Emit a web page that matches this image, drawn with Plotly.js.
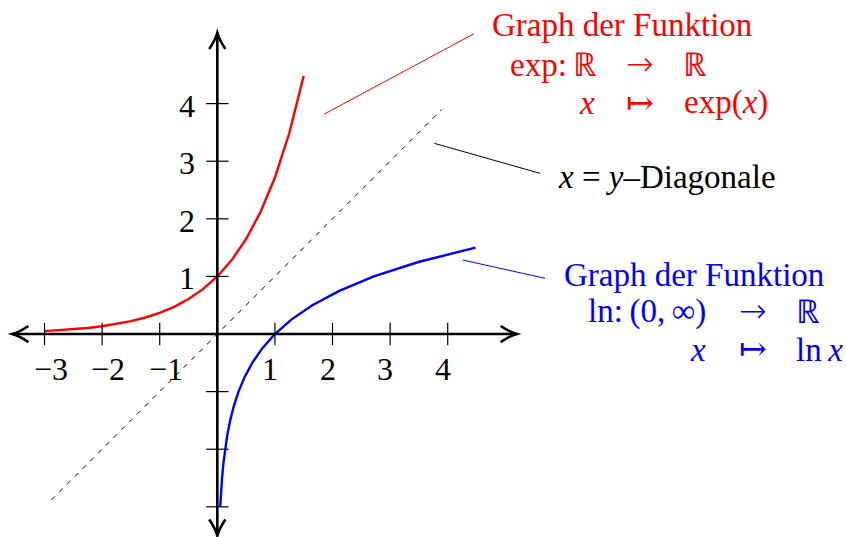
<!DOCTYPE html>
<html>
<head>
<meta charset="utf-8">
<script src="https://cdn.plot.ly/plotly-3.0.1.min.js"></script>
<style>
  html, body { margin: 0; padding: 0; background: #fff; }
  #chart { width: 846px; height: 537px; }
</style>
</head>
<body>
<div id="chart"></div>
<script>
// Sample parameter values and the matching exponential values
const tSamples = [-3, -2.75, -2.5, -2.25, -2, -1.75, -1.5, -1.25, -1, -0.75, -0.5, -0.25, 0, 0.25, 0.5, 0.75, 1, 1.25, 1.5];
const expValues = [0.050, 0.064, 0.082, 0.105, 0.135, 0.174, 0.223, 0.287, 0.368, 0.472, 0.607, 0.779, 1.000, 1.284, 1.649, 2.117, 2.718, 3.490, 4.482];

// Dashed x = y diagonal
const diagX = [-2.88, 3.9];
const diagY = [-2.88, 3.9];

// Axis extents
const xAxisSpan = [-3.56, 5.2];
const yAxisSpan = [-3.5, 5.23];

// Tick marks and labels
const xTicks = [-3, -2, -1, 1, 2, 3, 4];
const xTickText = ['\u22123', '\u22122', '\u22121', '1', '2', '3', '4'];
const yTicks = [-3, -2, -1, 1, 2, 3, 4];
const yLabelVals = [1, 2, 3, 4];
const yTickText = ['1', '2', '3', '4'];

const W = 846, H = 537;
const FONT = 'Liberation Serif, Times New Roman, serif';
const ARROW_FONT = 'DejaVu Sans ExtraLight, DejaVu Sans, sans-serif';
const MAPSTO_FONT = 'DejaVu Serif, DejaVu Sans, serif';
const FS = 32;       // tick labels
const TS = 33;       // description text
const AS = 33;       // arrow glyphs
const RED = '#ff0000', BLUE = '#0000ff', BLACK = '#000000';

const traces = [
  { // exp graph
    x: tSamples, y: expValues, mode: 'lines',
    line: { color: RED, width: 2.4 }, hoverinfo: 'skip'
  },
  { // ln graph (reflection of the exp graph)
    x: expValues, y: tSamples, mode: 'lines',
    line: { color: BLUE, width: 2.4 }, hoverinfo: 'skip'
  },
  { // diagonal
    x: diagX, y: diagY, mode: 'lines',
    line: { color: BLACK, width: 1, dash: '5px,6px' }, hoverinfo: 'skip'
  },
  { // x ticks
    x: xTicks, y: xTicks.map(() => 0), mode: 'markers',
    marker: { symbol: 'line-ns', size: 16, line: { color: BLACK, width: 1.2 } }, hoverinfo: 'skip'
  },
  { // y ticks
    x: yTicks.map(() => 0), y: yTicks, mode: 'markers',
    marker: { symbol: 'line-ew', size: 16, line: { color: BLACK, width: 1.2 } }, hoverinfo: 'skip'
  }
];

// Axis lines with open chevron heads at both ends
const AW = 2.6, HB = 0.28, HH = 0.14;
function chevron(tx, ty, dx, dy) {
  // (dx, dy): unit direction the arrow points to
  const bx = tx - dx * HB, by = ty - dy * HB;
  const px = -dy * HH, py = dx * HH;
  const mx = tx - dx * HB * 0.45, my = ty - dy * HB * 0.45;
  return 'M ' + (bx + px) + ',' + (by + py) +
         ' Q ' + (mx + px * 0.25) + ',' + (my + py * 0.25) + ' ' + tx + ',' + ty +
         ' Q ' + (mx - px * 0.25) + ',' + (my - py * 0.25) + ' ' + (bx - px) + ',' + (by - py);
}
const axisLine = { color: BLACK, width: AW };
const shapes = [
  { type: 'line', xref: 'x', yref: 'y', x0: xAxisSpan[0], y0: 0, x1: xAxisSpan[1], y1: 0, line: axisLine },
  { type: 'line', xref: 'x', yref: 'y', x0: 0, y0: yAxisSpan[0], x1: 0, y1: yAxisSpan[1], line: axisLine },
  { type: 'path', xref: 'x', yref: 'y', path: chevron(xAxisSpan[1], 0, 1, 0), line: axisLine },
  { type: 'path', xref: 'x', yref: 'y', path: chevron(xAxisSpan[0], 0, -1, 0), line: axisLine },
  { type: 'path', xref: 'x', yref: 'y', path: chevron(0, yAxisSpan[1], 0, 1), line: axisLine },
  { type: 'path', xref: 'x', yref: 'y', path: chevron(0, yAxisSpan[0], 0, -1), line: axisLine },
  // leader lines to the descriptions
  { type: 'line', xref: 'x', yref: 'y', x0: 1.86, y0: 3.82, x1: 4.45, y1: 5.21, line: { color: RED, width: 1 } },
  { type: 'line', xref: 'x', yref: 'y', x0: 3.77, y0: 3.31, x1: 5.60, y1: 2.79, line: { color: BLACK, width: 1 } },
  { type: 'line', xref: 'x', yref: 'y', x0: 4.26, y0: 1.285, x1: 5.69, y1: 0.967, line: { color: BLUE, width: 1 } }
];

const annotations = [];
// x tick labels
xTicks.forEach((v, i) => {
  annotations.push({
    x: v, y: 0, xref: 'x', yref: 'y', text: xTickText[i], showarrow: false,
    xanchor: 'center', yanchor: 'bottom', xshift: v < 0 ? 6 : -5, yshift: -54,
    borderpad: 0, font: { family: FONT, size: FS, color: BLACK }
  });
});
// y tick labels
yLabelVals.forEach((v, i) => {
  annotations.push({
    x: 0, y: v, xref: 'x', yref: 'y', text: yTickText[i], showarrow: false,
    xanchor: 'right', yanchor: 'bottom', xshift: -21, yshift: -21,
    borderpad: 0, font: { family: FONT, size: FS, color: BLACK }
  });
});

// Text placed by left/center/right edge and baseline (pixels)
function label(px, base, text, anchor, color) {
  annotations.push({
    x: px / W, y: 1 - (base + 0.22 * TS) / H, xref: 'paper', yref: 'paper',
    text: text, showarrow: false, xanchor: anchor, yanchor: 'bottom',
    borderpad: 0, font: { family: FONT, size: TS, color: color }
  });
}
function arrowGlyph(px, base, text, color, family, weight) {
  annotations.push({
    x: px / W, y: 1 - (base + 0.236 * AS) / H, xref: 'paper', yref: 'paper',
    text: text, showarrow: false, xanchor: 'center', yanchor: 'bottom',
    borderpad: 0, font: { family: family, size: AS, color: color, weight: weight }
  });
}
// exp description
label(490.8, 36.6, 'Graph der Funktion', 'left', RED);
label(597.7, 76.6, 'exp:\u2009\u211D', 'right', RED);
arrowGlyph(640.4, 76.6, '\u2192', RED, ARROW_FONT, 200);
label(682.3, 76.6, '\u211D', 'left', RED);
label(596.0, 114.9, '<i>x</i>', 'right', RED);
arrowGlyph(640.4, 114.9, '\u21A6', RED, MAPSTO_FONT, 400);
label(683.0, 114.9, 'exp(<i>x</i>)', 'left', RED);
// diagonal description
label(556.7, 188.3, '<i>x</i> = <i>y</i>\u2013Diagonale', 'left', BLACK);
// ln description
label(563.3, 286.7, 'Graph der Funktion', 'left', BLUE);
label(706.7, 323.3, 'ln:\u2009(0,\u2009\u221E)', 'right', BLUE);
arrowGlyph(752.5, 323.3, '\u2192', BLUE, ARROW_FONT, 200);
label(795.0, 323.3, '\u211D', 'left', BLUE);
label(707.0, 361.7, '<i>x</i>', 'right', BLUE);
arrowGlyph(752.5, 361.7, '\u21A6', BLUE, MAPSTO_FONT, 400);
label(795.0, 361.7, 'ln\u2009<i>x</i>', 'left', BLUE);

const layout = {
  width: W, height: H,
  margin: { l: 0, r: 0, t: 0, b: 0, pad: 0 },
  paper_bgcolor: '#ffffff', plot_bgcolor: '#ffffff',
  showlegend: false,
  xaxis: { range: [-3.773, 10.915], visible: false, fixedrange: true },
  yaxis: { range: [-3.524, 5.799], visible: false, fixedrange: true },
  shapes: shapes,
  annotations: annotations
};

Plotly.newPlot('chart', traces, layout, { staticPlot: true, displayModeBar: false });
</script>
</body>
</html>
